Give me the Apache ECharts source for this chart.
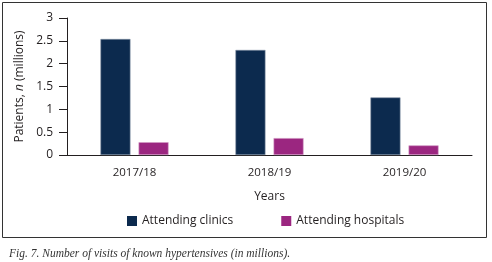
<!DOCTYPE html>
<html>
<head>
<meta charset="utf-8">
<script src="https://cdn.jsdelivr.net/npm/echarts@6/dist/echarts.min.js"></script>
<style>
  html, body { margin: 0; padding: 0; background: #fff; }
  #chart { width: 492px; height: 262px; }
</style>
</head>
<body>
<div id="chart"></div>
<script>
const years = ["2017/18", "2018/19", "2019/20"];
const clinics = [2.54, 2.3, 1.26];
const hospitals = [0.28, 0.37, 0.21];
const yTicks = { min: 0, max: 3, step: 0.5 };

const ink = "#231f20";
const font = "Open Sans";

const myChart = echarts.init(document.getElementById("chart"));
const option = {
  animation: false,
  title: {
    text: "Fig. 7. Number of visits of known hypertensives (in millions).",
    left: 4,
    top: 243,
    textStyle: {
      fontFamily: "Liberation Serif",
      fontStyle: "italic",
      fontWeight: "normal",
      fontSize: 11.5,
      color: "#333",
    },
  },
  graphic: [
    {
      type: "rect",
      shape: { x: 2.5, y: 2.5, width: 484, height: 235 },
      style: { fill: "none", stroke: "#333", lineWidth: 1 },
      silent: true,
    },
  ],
  legend: {
    left: 127,
    top: 215,
    padding: 0,
    itemWidth: 10,
    itemHeight: 10,
    itemGap: 48,
    icon: "rect",
    itemStyle: { borderWidth: 0 },
    textStyle: { fontFamily: font, fontSize: 12, color: ink },
    data: ["Attending clinics", "Attending hospitals"],
  },
  grid: {
    left: 67,
    right: 20,
    top: 18,
    bottom: 107,
  },
  xAxis: {
    type: "category",
    data: years,
    name: "Years",
    nameLocation: "middle",
    nameGap: 36,
    nameTextStyle: { fontFamily: font, fontSize: 12, color: ink },
    axisLine: { lineStyle: { color: ink, width: 1 } },
    axisTick: {
      length: 8,
      lineStyle: { color: ink },
      interval: (i) => i > 0,
    },
    axisLabel: { fontFamily: font, fontSize: 11.5, color: ink, margin: 12 },
  },
  yAxis: {
    type: "value",
    min: yTicks.min,
    max: yTicks.max,
    interval: yTicks.step,
    name: "{a|Patients, }{b|n}{a| (millions)}",
    nameLocation: "middle",
    nameRotate: 90,
    nameGap: 41,
    nameTextStyle: {
      rich: {
        a: { fontFamily: font, fontSize: 12, color: ink },
        b: { fontFamily: font, fontSize: 12, color: ink, fontStyle: "italic" },
      },
    },
    axisLine: { show: true, lineStyle: { color: ink, width: 1 } },
    axisTick: { show: true, length: 8, lineStyle: { color: ink } },
    splitLine: { show: false },
    axisLabel: { fontFamily: font, fontSize: 12, color: ink, margin: 14 },
  },
  series: [
    {
      name: "Attending clinics",
      type: "bar",
      data: clinics,
      barWidth: 30,
      barGap: "27%",
      itemStyle: { color: "#0c2a4e", borderColor: "#7f8ea3", borderWidth: 0.6 },
    },
    {
      name: "Attending hospitals",
      type: "bar",
      data: hospitals,
      barWidth: 30,
      itemStyle: { color: "#9b2680", borderColor: "#d19ac4", borderWidth: 0.6 },
    },
  ],
};
myChart.setOption(option);
</script>
</body>
</html>
